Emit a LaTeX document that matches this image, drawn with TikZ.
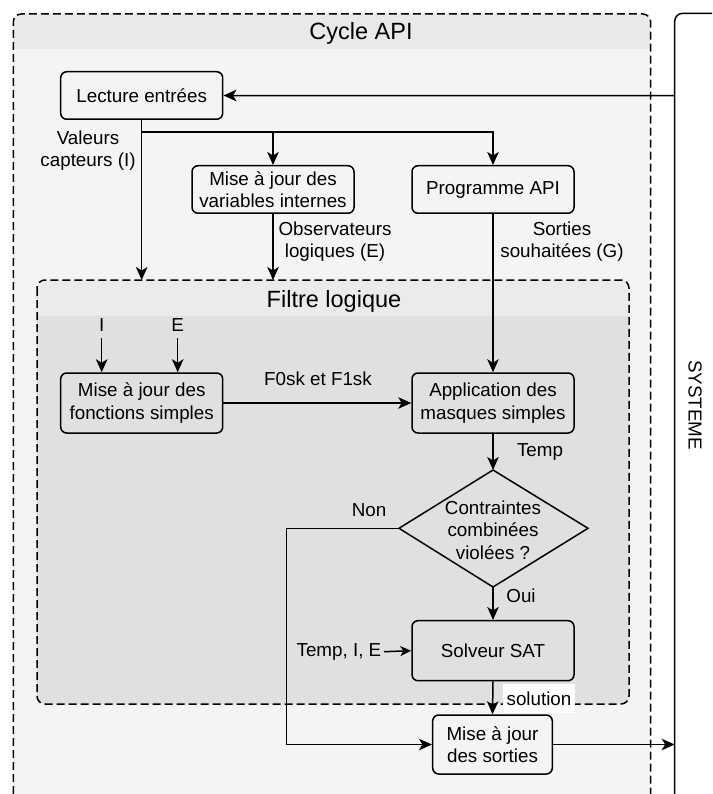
\documentclass[tikz,border=0pt]{standalone}
\usepackage{fontspec}
\setmainfont{Liberation Sans}
\usetikzlibrary{arrows.meta}
\definecolor{outhdr}{HTML}{E9E9E9}
\definecolor{outbody}{HTML}{F4F4F4}
\definecolor{fhdr}{HTML}{EBEBEB}
\definecolor{fbody}{HTML}{E0E0E0}
\begin{document}
\begin{tikzpicture}[x=1pt,y=-1pt,
 line width=1.5pt,
 every node/.style={font=\fontsize{18.8}{22.5}\selectfont, inner sep=0pt, text=black},
 box/.style={draw, rounded corners=6pt, minimum width=162pt, align=center},
 arr/.style={-{Stealth[length=13pt,width=11.5pt,inset=3.5pt]}},
 sarr/.style={-{Stealth[length=11pt,width=10pt,inset=3pt]}},
 lbl/.style={align=center},
 cont/.style={draw, dash pattern=on 8pt off 4pt, rounded corners=8pt},
 hdrtxt/.style={font=\fontsize{23.5}{28}\selectfont, anchor=base}]
\useasboundingbox (0,0) rectangle (712,794);
\fill[white] (0,0) rectangle (712,794);
\clip (0,0) rectangle (712,794);
% outer container
\begin{scope}
\clip[rounded corners=8pt] (13.3,14) rectangle (650.7,830);
\fill[outhdr] (13.3,14) rectangle (650.7,49);
\fill[outbody] (13.3,49) rectangle (650.7,830);
\end{scope}
\draw[cont] (13.3,830) -- (13.3,14) -- (650.7,14) -- (650.7,830);
% system box
\draw[rounded corners=8pt] (674.7,830) -- (674.7,13.3) -- (740,13.3);
% filtre container
\begin{scope}
\clip[rounded corners=8pt] (37,280) rectangle (629,704);
\fill[fhdr] (37,280) rectangle (629,316);
\fill[fbody] (37,316) rectangle (629,704);
\end{scope}
\draw[cont] (37,280) rectangle (629,704);
% titles
\node[hdrtxt] (tcyc) at (361,40) {Cycle API};
\node[hdrtxt] (tfil) at (334,307) {Filtre logique};
\node[rotate=-90] (lsys) at (695,405) {SYSTEME};
% boxes
\node[box, minimum height=47.5pt] (lect) at (141.7,95.5) {Lecture entrées};
\node[box, minimum height=47.5pt] (var) at (273,189.5) {Mise à jour des\\variables internes};
\node[box, minimum height=47.5pt] (prog) at (493,189.5) {Programme API};
\node[box, minimum height=60pt] (fonc) at (141.7,403) {Mise à jour des\\fonctions simples};
\node[box, minimum height=60pt] (appl) at (493,403) {Application des\\masques simples};
\node[box, minimum height=60pt] (solv) at (493,650.7) {Solveur SAT};
\node[box, minimum width=119.6pt, minimum height=59pt] (sort) at (492.5,744.5) {Mise à jour\\des sorties};
% diamond
\coordinate (dT) at (493,470);
\coordinate (dB) at (493,587);
\coordinate (dL) at (399,528.3);
\coordinate (dR) at (588,528.3);
\draw (dT) -- (dR) -- (dB) -- (dL) -- cycle;
\node[align=center] (dtxt) at (493,530) {Contraintes\\combinées\\violées ?};
% coordinates
\coordinate (sysIn) at (674.7,95.7);
\coordinate (sysOut) at (674.7,744.5);
\coordinate (jL) at (141.7,132);
\coordinate (fI) at (141.7,280);
\coordinate (fE) at (273,280);
\coordinate (nonC) at (286.7,528.3);
% labels
\node[lbl] (lval) at (88,150.5) {Valeurs\\capteurs (I)};
\node[lbl] (lobs) at (335,241.5) {Observateurs\\logiques (E)};
\node[lbl] (lsor) at (562,241.5) {Sorties\\souhaitées (G)};
\node (lf) at (318,379) {F0sk et F1sk};
\node (ltemp) at (540,452) {Temp};
\node (lnon) at (369,510) {Non};
\node (loui) at (521,596) {Oui};
\node (lI) at (101.7,325) {I};
\node (lE) at (177.7,325) {E};
\node[anchor=east] (tie) at (382,651.7) {Temp, I, E};
% connectors
\draw[arr] (sysIn) -- (lect.east);
\draw (lect.south) -- (jL);
\draw[arr] (jL) -- (fI);
\draw[arr] (jL) -| (prog.north);
\draw[arr] (jL -| var.north) -- (var.north);
\draw[arr] (var.south) -- (fE);
\draw[arr] (prog.south) -- (appl.north);
\draw[arr] ([yshift=-6pt]lI.south) -- (lI.south |- fonc.north);
\draw[arr] ([yshift=-6pt]lE.south) -- (lE.south |- fonc.north);
\draw[arr] (fonc.east) -- (appl.west);
\draw[arr] (appl.south) -- (dT);
\draw[arr] (dB) -- (solv.north);
\draw[arr] (dL) -- (nonC) |- (sort.west);
\draw[sarr] ([xshift=2pt]tie.east) -- (solv.west);
\draw[arr] (solv.south) -- (sort.north);
\draw[arr] (sort.east) -- (sysOut);
\node[fill=white, minimum width=72pt, minimum height=29pt] (lsol) at (539,698.5) {solution};
\end{tikzpicture}
\end{document}
